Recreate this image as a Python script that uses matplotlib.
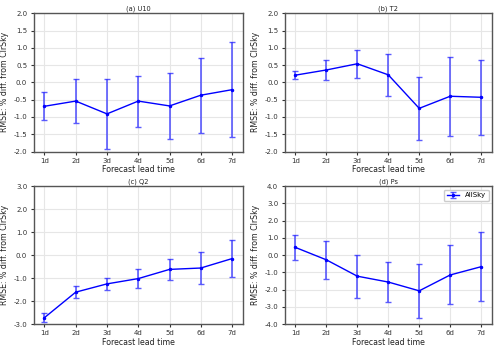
import matplotlib
matplotlib.use('Agg')
import numpy as np
import matplotlib.pyplot as plt

## Data
leads = ['1d', '2d', '3d', '4d', '5d', '6d', '7d']

u10_mean = [-0.69, -0.54, -0.91, -0.54, -0.68, -0.37, -0.21]
u10_err = [0.40, 0.64, 1.02, 0.74, 0.96, 1.08, 1.37]

t2_mean = [0.21, 0.36, 0.54, 0.22, -0.75, -0.40, -0.43]
t2_err = [0.12, 0.28, 0.41, 0.61, 0.92, 1.15, 1.09]

q2_mean = [-2.72, -1.61, -1.25, -1.02, -0.62, -0.56, -0.15]
q2_err = [0.20, 0.25, 0.27, 0.40, 0.47, 0.71, 0.81]

ps_mean = [0.45, -0.27, -1.22, -1.56, -2.07, -1.15, -0.67]
ps_err = [0.74, 1.10, 1.25, 1.16, 1.57, 1.71, 2.00]

titles = ['(a) U10', '(b) T2', '(c) Q2', '(d) Ps']
means = [u10_mean, t2_mean, q2_mean, ps_mean]
errs = [u10_err, t2_err, q2_err, ps_err]
ylims = [(-2, 2), (-2, 2), (-3, 3), (-4, 4)]
ysteps = [0.5, 0.5, 1.0, 1.0]

fig = plt.figure(figsize=(5, 3.5), dpi=100)
# axes positions in figure fractions [left, bottom, width, height]
pos = [[0.067, 0.567, 0.419, 0.395],
       [0.569, 0.567, 0.415, 0.395],
       [0.067, 0.074, 0.419, 0.394],
       [0.569, 0.074, 0.415, 0.394]]

x = np.arange(len(leads))
for i in range(4):
    ax = fig.add_axes(pos[i])
    ax.grid(True, color='#e6e6e6', lw=0.8, zorder=0)
    ax.axhline(0, color='k', ls='--', lw=0.6, zorder=1)
    ax.errorbar(x, means[i], yerr=errs[i], color='blue', marker='.', ms=3,
                lw=1.0, elinewidth=1.2, capsize=2, capthick=1.0,
                ecolor=(0.2, 0.2, 1.0, 0.8), label='AllSky', zorder=3)
    lo, hi = ylims[i]
    ax.set_ylim(lo, hi)
    ax.set_xlim(-0.35, 6.35)
    yt = np.arange(lo, hi + 1e-9, ysteps[i])
    ax.set_yticks(yt)
    ax.set_yticklabels(['{:.1f}'.format(v) for v in yt])
    ax.set_xticks(x)
    ax.set_xticklabels(leads)
    ax.tick_params(labelsize=5, colors='#333333', length=2.5, width=0.8, pad=2)
    for sp in ax.spines.values():
        sp.set_color('#555555')
        sp.set_linewidth(1.0)
    ax.set_title(titles[i], fontsize=4.8, pad=2, color='#222222')
    ax.set_xlabel('Forecast lead time', fontsize=5.7, labelpad=1, color='#222222')
    ax.set_ylabel('RMSE: % diff. from ClrSky', fontsize=5.7, labelpad=3, color='#222222')
    if i == 3:
        ax.legend(loc='upper right', fontsize=5, handlelength=1.8, framealpha=1)

fig.savefig('out.png', dpi=100)
